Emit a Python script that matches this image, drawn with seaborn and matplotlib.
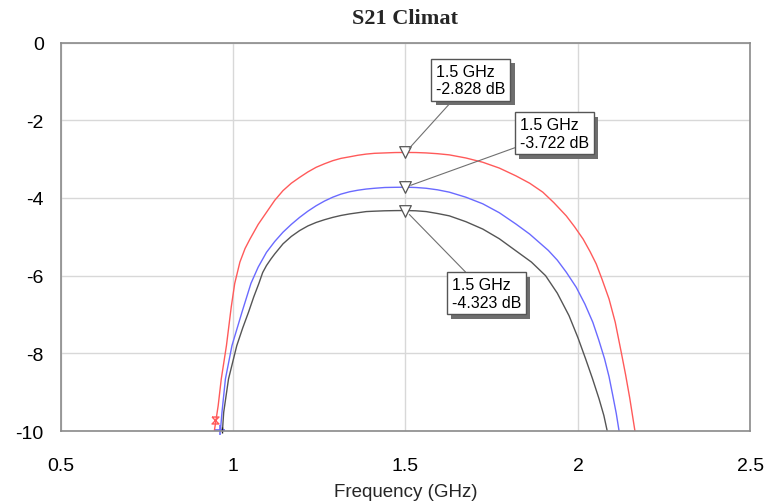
import matplotlib
matplotlib.use("Agg")
import matplotlib.pyplot as plt
import matplotlib.patheffects as pe
import seaborn as sns
import pandas as pd

# S21 traces (GHz, dB)
freq_red = [0.945, 0.957, 0.966, 0.981, 0.995, 1.005, 1.02, 1.035, 1.049, 1.073, 1.097, 1.121,
            1.145, 1.169, 1.193, 1.217, 1.241, 1.265, 1.289, 1.313, 1.338, 1.362, 1.386, 1.41,
            1.44, 1.47, 1.5, 1.53, 1.56, 1.593, 1.627, 1.675, 1.724, 1.772, 1.82, 1.86, 1.898,
            1.93, 1.966, 1.99, 2.015, 2.035, 2.053, 2.07, 2.09, 2.108, 2.126, 2.138, 2.15,
            2.158, 2.166]
s21_red = [-10.05, -9.35, -8.66, -7.80, -6.8, -6.2, -5.65, -5.3, -5.06, -4.68, -4.37, -4.06,
           -3.81, -3.62, -3.47, -3.33, -3.21, -3.12, -3.04, -2.98, -2.94, -2.90, -2.87, -2.85,
           -2.84, -2.83, -2.828, -2.83, -2.84, -2.86, -2.89, -2.97, -3.08, -3.23, -3.43, -3.62,
           -3.85, -4.12, -4.46, -4.74, -5.06, -5.38, -5.7, -6.1, -6.6, -7.2, -8.0, -8.55, -9.15,
           -9.6, -10.05]

freq_blue = [0.963, 0.968, 0.978, 0.997, 1.026, 1.052, 1.073, 1.097, 1.121, 1.145, 1.169, 1.193,
             1.217, 1.241, 1.265, 1.289, 1.313, 1.338, 1.362, 1.386, 1.41, 1.44, 1.47, 1.5,
             1.53, 1.56, 1.593, 1.627, 1.675, 1.724, 1.772, 1.82, 1.86, 1.914, 1.94, 1.966,
             1.995, 2.02, 2.043, 2.06, 2.077, 2.09, 2.101, 2.111, 2.12]
s21_blue = [-10.05, -9.52, -8.66, -7.80, -6.94, -6.2, -5.78, -5.40, -5.12, -4.88, -4.68, -4.50,
            -4.34, -4.20, -4.08, -3.98, -3.90, -3.84, -3.80, -3.77, -3.75, -3.73, -3.725, -3.722,
            -3.73, -3.75, -3.79, -3.85, -3.98, -4.15, -4.38, -4.67, -4.93, -5.35, -5.6, -5.91,
            -6.3, -6.73, -7.2, -7.65, -8.14, -8.6, -9.09, -9.55, -10.05]

freq_gray = [0.969, 0.973, 0.987, 1.011, 1.028, 1.045, 1.06, 1.075, 1.086, 1.097, 1.11, 1.121,
             1.145, 1.169, 1.193, 1.217, 1.241, 1.265, 1.289, 1.313, 1.338, 1.362, 1.386, 1.41,
             1.44, 1.47, 1.5, 1.53, 1.56, 1.593, 1.627, 1.675, 1.724, 1.772, 1.82, 1.865, 1.906,
             1.94, 1.974, 2.0, 2.022, 2.042, 2.061, 2.075, 2.086]
s21_gray = [-10.05, -9.52, -8.66, -7.80, -7.35, -6.94, -6.55, -6.2, -5.92, -5.74, -5.57, -5.44,
            -5.18, -4.99, -4.84, -4.72, -4.63, -4.56, -4.50, -4.45, -4.41, -4.38, -4.35, -4.34,
            -4.33, -4.325, -4.323, -4.33, -4.35, -4.40, -4.46, -4.61, -4.80, -5.05, -5.36, -5.65,
            -6.0, -6.45, -7.03, -7.6, -8.14, -8.65, -9.17, -9.6, -10.05]

marker_freq = 1.5
marker_db = [-2.828, -3.722, -4.323]
marker_text = ["1.5 GHz\n-2.828 dB", "1.5 GHz\n-3.722 dB", "1.5 GHz\n-4.323 dB"]
text_pos = [(1.589, -0.55), (1.832, -1.92), (1.634, -6.04)]

trace_names = ["red", "blue", "gray"]
trace_colors = {"red": "#ff5a5a", "blue": "#6a6aff", "gray": "#555555"}

df = pd.concat([
    pd.DataFrame({"f": freq_red, "db": s21_red, "trace": "red"}),
    pd.DataFrame({"f": freq_blue, "db": s21_blue, "trace": "blue"}),
    pd.DataFrame({"f": freq_gray, "db": s21_gray, "trace": "gray"}),
])

sns.set_theme(style="whitegrid")
plt.rcParams['font.family'] = ['Liberation Sans', 'DejaVu Sans']

fig = plt.figure(figsize=(7.64, 5.02), dpi=100)
ax = fig.add_axes([0.0792, 0.1394, 0.9031, 0.7737])

sns.lineplot(data=df, x="f", y="db", hue="trace", hue_order=trace_names,
             palette=trace_colors, estimator=None, sort=False, linewidth=1.0,
             legend=False, ax=ax)

# start markers at the bottom of the traces
hourglass = [(-1, 1), (1, 1), (-1, -1), (1, -1), (-1, 1)]
ax.plot(freq_red[0] + 0.002, -9.72, marker=hourglass, ms=5, mfc="none", mec="#ff5a5a",
        mew=1.0, clip_on=False)
ax.plot(freq_blue[0], -9.98, marker="+", ms=7, mec="#6a6aff", mew=1.2, clip_on=False)
ax.plot(freq_gray[0], -9.98, marker="|", ms=5, mec="#222222", mew=1.0, clip_on=False)

# marker triangles and readout boxes
for db, txt, pos in zip(marker_db, marker_text, text_pos):
    ax.scatter([marker_freq], [db], marker="v", s=70, facecolors="white",
               edgecolors="#555555", linewidths=0.9, zorder=5)
    ann = ax.annotate(txt, xy=(marker_freq, db), xytext=pos, textcoords="data",
                      fontsize=11.5, ha="left", va="top", color="black",
                      bbox=dict(boxstyle="square,pad=0.3", fc="white", ec="#555555", lw=1.0),
                      arrowprops=dict(arrowstyle="-", color="#707070", lw=0.8,
                                      shrinkA=0, shrinkB=4),
                      zorder=7)
    ann.get_bbox_patch().set_path_effects([
        pe.SimplePatchShadow(offset=(3, -3), shadow_rgbFace="#6e6e6e", alpha=1.0),
        pe.Normal()])

ax.set_xlim(0.5, 2.5)
ax.set_ylim(-10, 0)
ax.set_xticks([0.5, 1, 1.5, 2, 2.5])
ax.set_xticklabels(["0.5", "1", "1.5", "2", "2.5"])
ax.set_yticks([0, -2, -4, -6, -8, -10])
ax.set_yticklabels(["0", "-2", "-4", "-6", "-8", "-10"])
ax.tick_params(axis="both", length=0, labelsize=14, colors="black")
ax.tick_params(axis="x", pad=19)
ax.tick_params(axis="y", pad=12)
ax.grid(True, color="#d8d8d8", linewidth=1.0)
for sp in ax.spines.values():
    sp.set_color("#8a8a8a")
    sp.set_linewidth(1.2)

ax.set_xlabel("Frequency (GHz)", fontsize=13.5, labelpad=6)
ax.set_ylabel("")
ax.set_title("S21 Climat", fontsize=16, fontweight="bold",
             family=["Liberation Serif", "DejaVu Serif"], pad=14)

fig.savefig("out.png", dpi=100)
